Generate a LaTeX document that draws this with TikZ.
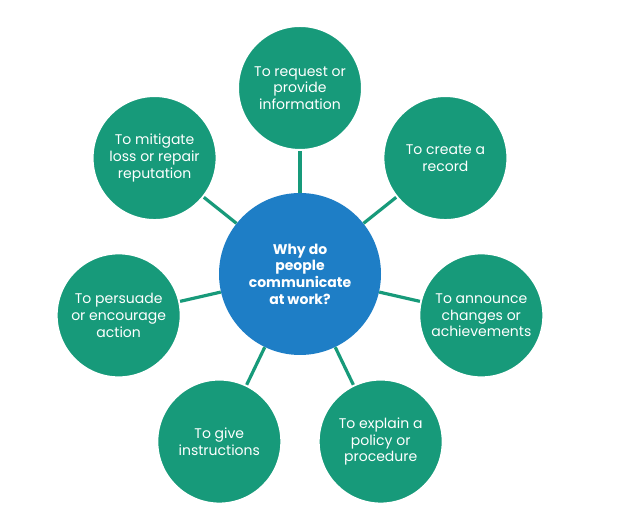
\documentclass[tikz,border=0pt]{standalone}
\usepackage{fontspec}
\setmainfont{Poppins}
\usetikzlibrary{positioning,calc}

\definecolor{reasongreen}{HTML}{179A7A}
\definecolor{hubblue}{HTML}{1E7EC6}

\begin{document}
\begin{tikzpicture}[
  x=0.75pt, y=0.75pt,
  hub/.style={circle, fill=hubblue, minimum size=121.5pt, inner sep=0pt,
    text=white, align=center, font=\fontsize{10.5}{12.5}\selectfont\bfseries},
  reason/.style={circle, fill=reasongreen, draw=white, line width=1.5pt, minimum size=93pt,
    inner sep=0pt, text=white, align=center, font=\fontsize{10.5}{12.5}\selectfont},
  spoke/.style={draw=reasongreen, line width=2.4pt}
]
\useasboundingbox (0,0) rectangle (628,516);

% Centre question
\node[hub] (Q) at (300,242) {Why do\\people\\communicate\\at work?};

% Reasons round the centre
\node[reason] (R1) at ($(Q)+(90:186)$)      {To request or\\provide\\information};
\node[reason] (R2) at ($(Q)+(38.57:186)$)   {To create a\\record};
\node[reason] (R3) at ($(Q)+(-12.86:186)$)  {To announce\\changes or\\achievements};
\node[reason] (R4) at ($(Q)+(-64.29:186)$)  {To explain a\\policy or\\procedure};
\node[reason] (R5) at ($(Q)+(-115.71:186)$) {To give\\instructions};
\node[reason] (R6) at ($(Q)+(-167.14:186)$) {To persuade\\or encourage\\action};
\node[reason] (R7) at ($(Q)+(141.43:186)$)  {To mitigate\\loss or repair\\reputation};

% Spokes
\draw[spoke] (Q) -- (R1);
\draw[spoke] (Q) -- (R2);
\draw[spoke] (Q) -- (R3);
\draw[spoke] (Q) -- (R4);
\draw[spoke] (Q) -- (R5);
\draw[spoke] (Q) -- (R6);
\draw[spoke] (Q) -- (R7);

\end{tikzpicture}
\end{document}
